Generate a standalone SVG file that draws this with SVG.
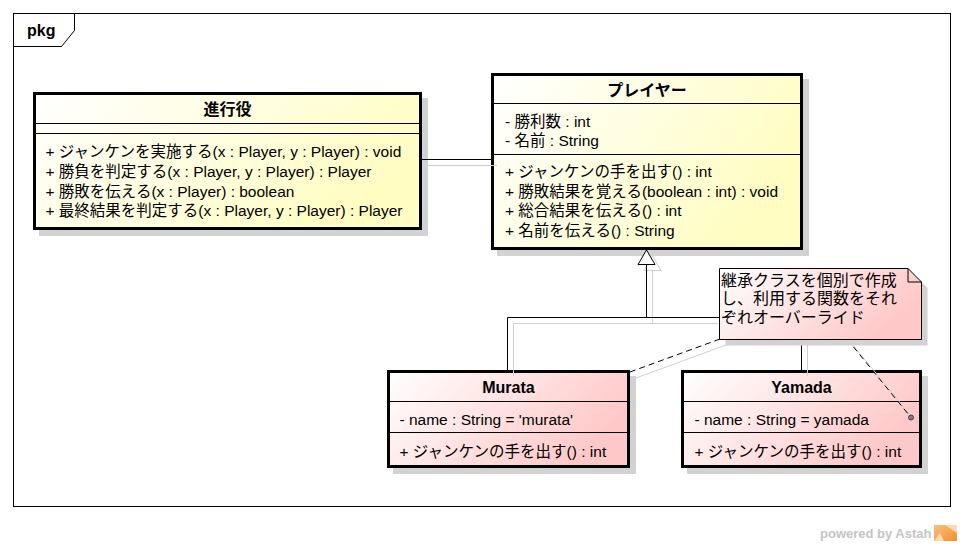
<svg xmlns="http://www.w3.org/2000/svg" width="964" height="546" viewBox="0 0 964 546">
<defs>
<linearGradient id="gy" x1="0" y1="0" x2="1" y2="0.4">
<stop offset="0" stop-color="#FFFFFF"/>
<stop offset="1" stop-color="#FFFDC2"/>
</linearGradient>
<linearGradient id="gp" x1="0" y1="0" x2="1" y2="0.4">
<stop offset="0" stop-color="#FFFFFF"/>
<stop offset="1" stop-color="#FFC8C8"/>
</linearGradient>
<linearGradient id="go" x1="0" y1="0" x2="1" y2="1">
<stop offset="0" stop-color="#FAC080"/>
<stop offset="1" stop-color="#F0902A"/>
</linearGradient>
</defs>
<style>
text{font-family:"Liberation Sans","Noto Sans CJK JP",sans-serif;fill:#000}
.t{font-size:16px;font-weight:bold;text-anchor:middle}
.m{font-size:15.5px}
.n{font-size:16px}
.box{stroke:#000;stroke-width:3}
.sh{fill:#D2D2D2}
.sep{stroke:#000;stroke-width:1}
.ln{stroke:#000;stroke-width:1;fill:none}
.lsh{stroke:#D0D0D0;stroke-width:1;fill:none}
.dash{stroke:#000;stroke-width:1;fill:none;stroke-dasharray:6,4}
</style>
<rect width="964" height="546" fill="#FFFFFF"/>
<g id="frame">
<rect x="13.5" y="13.5" width="937" height="493" fill="none" stroke="#000" stroke-width="1"/>
<path d="M13.5,46.5 H61.5 L74.5,30.5 V13.5" fill="none" stroke="#000" stroke-width="1"/>
<text x="27" y="36" style="font-size:16px;font-weight:bold">pkg</text>
</g>
<g id="node-shinkouyaku">
<rect class="sh" x="39" y="98" width="389" height="138"/>
<rect class="box" x="34.5" y="93.5" width="386" height="135" fill="url(#gy)"/>
<line class="sep" x1="36" y1="123.5" x2="419" y2="123.5"/>
<line class="sep" x1="36" y1="133.5" x2="419" y2="133.5"/>
<text class="t" x="227.5" y="115">進行役</text>
<text class="m" x="45.5" y="157">+ ジャンケンを実施する(x : Player, y : Player) : void</text>
<text class="m" x="45.5" y="177">+ 勝負を判定する(x : Player, y : Player) : Player</text>
<text class="m" x="45.5" y="196.5">+ 勝敗を伝える(x : Player) : boolean</text>
<text class="m" x="45.5" y="216">+ 最終結果を判定する(x : Player, y : Player) : Player</text>
</g>
<g id="node-player">
<rect class="sh" x="497" y="79" width="312" height="177"/>
<rect class="box" x="492.5" y="74.5" width="309" height="174" fill="url(#gy)"/>
<line class="sep" x1="494" y1="103.5" x2="800" y2="103.5"/>
<line class="sep" x1="494" y1="154.5" x2="800" y2="154.5"/>
<text class="t" x="647" y="95.5">プレイヤー</text>
<text class="m" x="505" y="126.5">- 勝利数 : int</text>
<text class="m" x="505" y="146">- 名前 : String</text>
<text class="m" x="505" y="176.7">+ ジャンケンの手を出す() : int</text>
<text class="m" x="505" y="196.5">+ 勝敗結果を覚える(boolean : int) : void</text>
<text class="m" x="505" y="216.3">+ 総合結果を伝える() : int</text>
<text class="m" x="505" y="236">+ 名前を伝える() : String</text>
</g>
<g id="node-murata">
<rect class="sh" x="393" y="376" width="243" height="98"/>
<rect class="box" x="388.5" y="371.5" width="240" height="95" fill="url(#gp)"/>
<line class="sep" x1="390" y1="401.5" x2="627" y2="401.5"/>
<line class="sep" x1="390" y1="432.5" x2="627" y2="432.5"/>
<text class="t" x="508.5" y="393">Murata</text>
<text class="m" x="399.5" y="425">- name : String = 'murata'</text>
<text class="m" x="399.5" y="457">+ ジャンケンの手を出す() : int</text>
</g>
<g id="node-yamada">
<rect class="sh" x="687" y="376" width="241" height="98"/>
<rect class="box" x="682.5" y="371.5" width="238" height="95" fill="url(#gp)"/>
<line class="sep" x1="684" y1="401.5" x2="919" y2="401.5"/>
<line class="sep" x1="684" y1="432.5" x2="919" y2="432.5"/>
<text class="t" x="801.5" y="393">Yamada</text>
<text class="m" x="694.5" y="425">- name : String = yamada</text>
<text class="m" x="694.5" y="457">+ ジャンケンの手を出す() : int</text>
</g>
<g id="connectors">
<!-- shadows -->
<line class="lsh" x1="428" y1="165.5" x2="497" y2="165.5"/>
<polygon points="652.5,256 661,270.5 644,270.5" class="lsh"/>
<line class="lsh" x1="652.5" y1="270.5" x2="652.5" y2="323.5"/>
<polyline class="lsh" points="513.5,376 513.5,323.5 807.5,323.5 807.5,376"/>
<line class="lsh" x1="726" y1="345" x2="636" y2="378"/>
<line class="lsh" x1="853" y1="345" x2="917" y2="423.5"/>
<!-- association -->
<line class="ln" x1="422" y1="159.5" x2="491" y2="159.5"/>
<!-- generalization -->
<line class="ln" x1="646.5" y1="264.5" x2="646.5" y2="317.5"/>
<polyline class="ln" points="507.5,370 507.5,317.5 801.5,317.5 801.5,370"/>
<polygon points="646.5,250 655,264.5 638,264.5" fill="#FFFFFF" stroke="#000" stroke-width="1"/>
<!-- note anchors -->
<line class="dash" x1="720" y1="339" x2="630" y2="372"/>
<line class="dash" x1="847" y1="339" x2="911" y2="417.5"/>
<circle cx="911" cy="417.5" r="2.5" fill="#808080" stroke="#404040" stroke-width="1"/>
</g>
<g id="note">
<polygon points="725.5,274.5 914,274.5 927.5,288 927.5,345.5 725.5,345.5" fill="#D2D2D2"/>
<polygon points="719.5,268.5 908,268.5 921.5,282 921.5,339.5 719.5,339.5" fill="url(#gp)" stroke="#000" stroke-width="1"/>
<polyline points="908,268.5 908,282 921.5,282" fill="none" stroke="#000" stroke-width="1"/>
<text class="n" x="721" y="285.5">継承クラスを個別で作成</text>
<text class="n" x="721" y="304.2">し、利用する関数をそれ</text>
<text class="n" x="721" y="323">ぞれオーバーライド</text>
</g>
<g id="watermark">
<text x="820" y="538" style="font-size:13px;font-weight:bold;fill:#C4C4C4">powered by Astah</text>
<rect x="934" y="525" width="23" height="16" fill="url(#go)"/>
<polygon points="945,525 957,525 957,533" fill="#FCD9B0"/>
<polygon points="934,541 940,533 944,541" fill="#FCD9B0"/>
</g>
</svg>
